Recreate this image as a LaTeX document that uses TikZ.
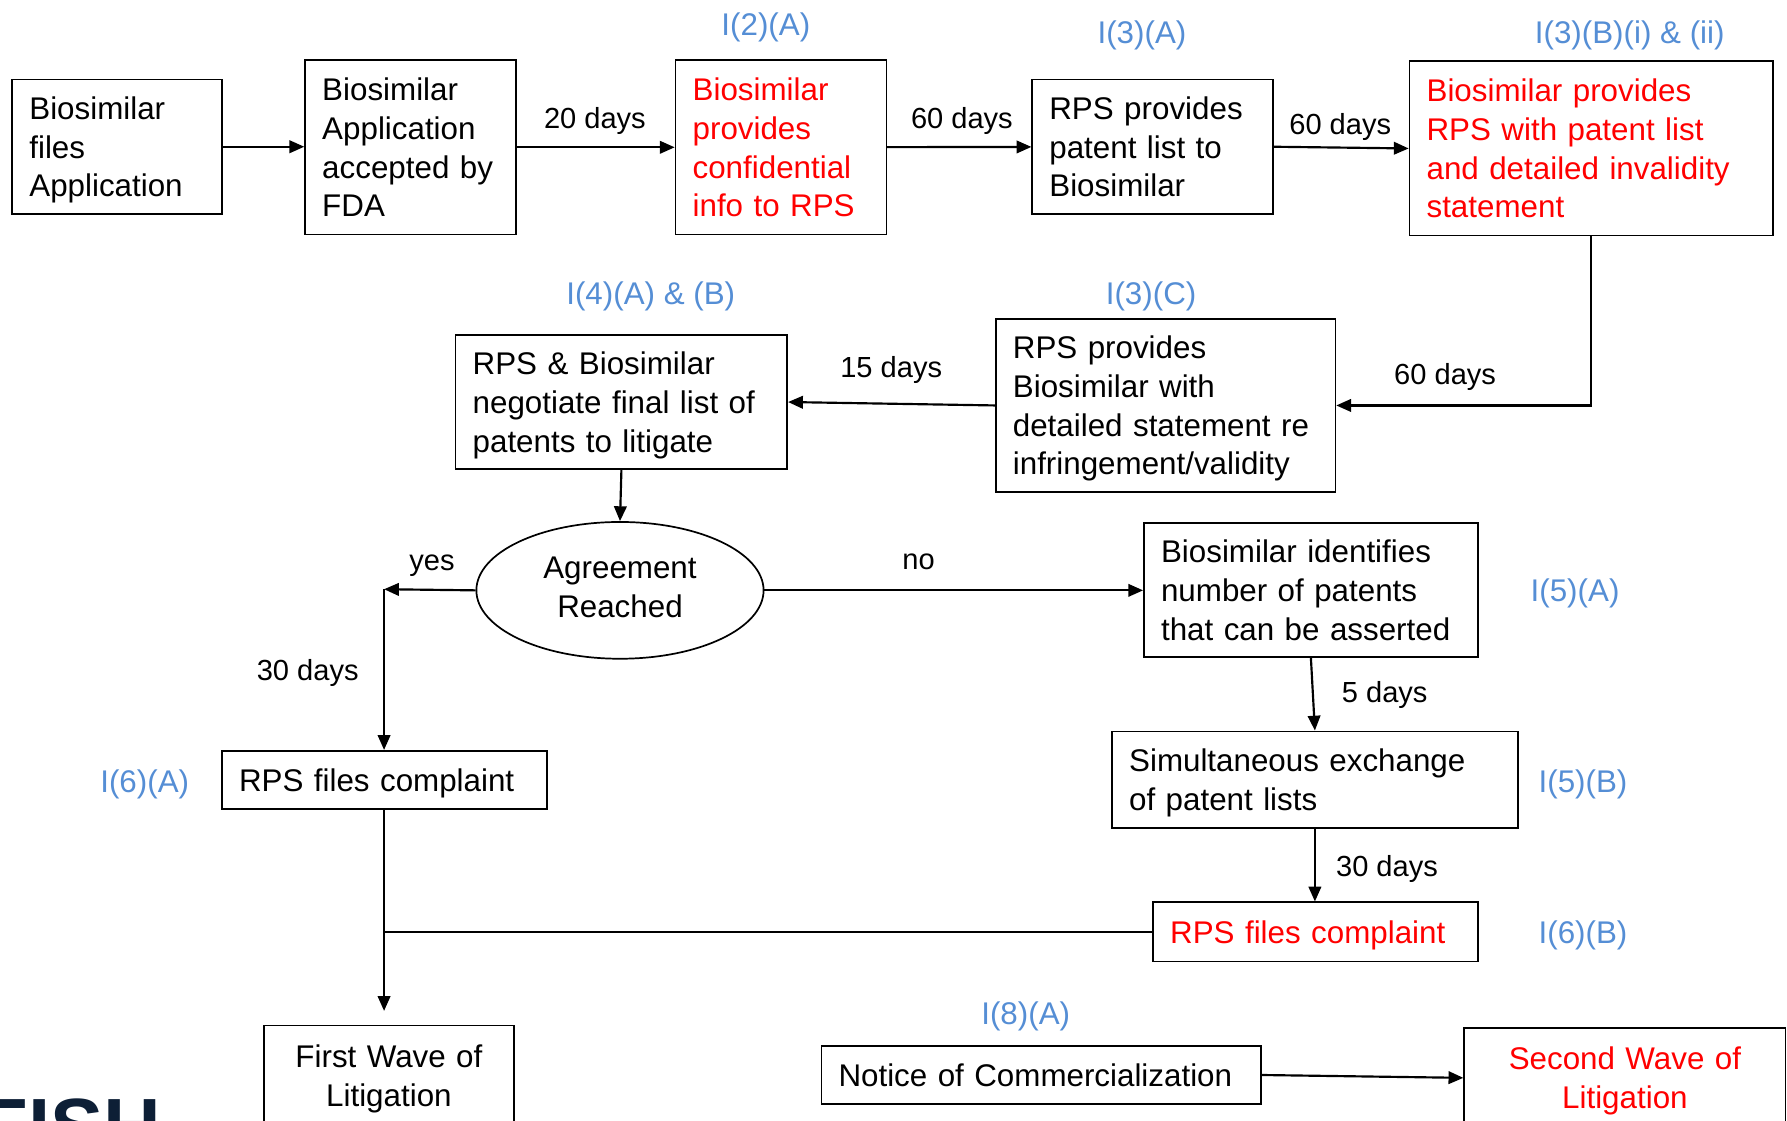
\documentclass[tikz,border=0pt]{standalone}
\usepackage{fontspec}
\setmainfont{Liberation Sans}
\usetikzlibrary{shapes.geometric,arrows.meta}
\definecolor{lblblue}{HTML}{558ED5}
\definecolor{logonavy}{HTML}{0D1F36}
\newcommand{\boxstrut}{\rule[-6pt]{0pt}{32pt}}
\newcommand{\ellstrut}{\rule[-6pt]{0pt}{40pt}}
\tikzset{
  box/.style={draw, line width=1.5pt, anchor=north west, inner xsep=15pt, inner ysep=0pt,
    align=left, font=\fontsize{27.5}{34}\selectfont,
    execute at begin node=\boxstrut, execute at end node=\boxstrut},
  cbox/.style={box, align=center},
  redtxt/.style={text=red},
  arr/.style={line width=1.9pt, -{Triangle[length=13pt,width=11pt]}},
  plain/.style={line width=1.6pt},
  daylbl/.style={font=\fontsize{25.5}{30}\selectfont, anchor=base, inner sep=0pt},
  seclbl/.style={text=lblblue, font=\fontsize{27.5}{34}\selectfont, anchor=base, inner sep=0pt},
}
\begin{document}
\begin{tikzpicture}[x=1pt,y=-1pt]
\useasboundingbox (0,0) rectangle (1568,983);
\clip (0,0) rectangle (1568,983);
\fill[white] (0,0) rectangle (1568,983);

% boxes (text width = box width - 30)
\node[box, text width=154pt, minimum height=118pt] (A) at (10,69) {Biosimilar\\files\\Application};
\node[box, text width=155pt, minimum height=153pt] (B) at (267,52) {Biosimilar\\Application\\accepted by\\FDA};
\node[box, redtxt, text width=155pt, minimum height=153pt] (C) at (592,52) {Biosimilar\\provides\\confidential\\info to RPS};
\node[box, text width=181pt, minimum height=118pt] (D) at (905,69) {RPS provides\\patent list to\\Biosimilar};
\node[box, redtxt, text width=289pt, minimum height=153pt] (E) at (1236,53) {Biosimilar provides\\RPS with patent list\\and detailed invalidity\\statement};
\node[box, text width=268pt, minimum height=152pt] (F) at (873,279) {RPS provides\\Biosimilar with\\detailed statement re\\infringement/validity};
\node[box, text width=261pt, minimum height=118pt] (G) at (399,293) {RPS \& Biosimilar\\negotiate final list of\\patents to litigate};
\node[draw, ellipse, line width=1.5pt, minimum width=252pt, minimum height=120pt, inner sep=0pt,
      align=center, font=\fontsize{27.5}{34}\selectfont,
      execute at begin node=\ellstrut, execute at end node=\boxstrut] (Ag) at (544,518) {Agreement\\Reached};
\node[box, text width=263pt, minimum height=118pt] (I) at (1003,458) {Biosimilar identifies\\number of patents\\that can be asserted};
\node[box, text width=326pt, minimum height=85pt] (J) at (975,641) {Simultaneous exchange\\of patent lists};
\node[box, redtxt, text width=255pt, minimum height=52pt] (K) at (1011,791) {RPS files complaint};
\node[box, text width=255pt, minimum height=51pt] (H) at (194,658) {RPS files complaint};
\node[cbox, text width=189pt, minimum height=88pt] (L) at (231,899) {First Wave of\\Litigation};
\node[box, text width=356pt, minimum height=51pt] (M) at (720,917) {Notice of Commercialization};
\node[cbox, redtxt, text width=252pt, minimum height=88pt] (N) at (1284,901) {Second Wave of\\Litigation};

\coordinate (yc) at (337,517);

% connectors
\draw[arr] (A.east) -- (A.east -| B.west);
\draw[arr] (B) -- (C);
\draw[arr] (C) -- (D);
\draw[arr] (D.east) -- (E.west);
\draw[arr] (E.south) |- (F.east);
\draw[arr] (F.west) -- (G.east);
\draw[arr] (G.south) -- (Ag.north);
\draw[arr] (Ag.west) -- (yc);
\draw[arr] (yc) -- (yc |- H.north);
\draw[arr] (Ag.east) -- (Ag.east -| I.west);
\draw[arr] (I.south) -- (J.north);
\draw[arr] (J.south) -- (J.south |- K.north);
\draw[plain] (K.west) -- (K.west -| yc);
\draw[arr, shorten >=12pt] (yc |- H.south) -- (yc |- L.north);
\draw[arr] (M.east) -- (N.west);

% day labels
\node[daylbl] (d1) at (522,113) {20 days};
\node[daylbl] (d2) at (844,113) {60 days};
\node[daylbl] (d3) at (1176,118) {60 days};
\node[daylbl] (d4) at (1268,337) {60 days};
\node[daylbl] (d5) at (782,331) {15 days};
\node[daylbl] (d6) at (379,501) {yes};
\node[daylbl] (d7) at (806,500) {no};
\node[daylbl] (d8) at (270,597) {30 days};
\node[daylbl] (d9) at (1215,616) {5 days};
\node[daylbl] (d10) at (1217,769) {30 days};

% section labels
\node[seclbl] (s1) at (672,31) {I(2)(A)};
\node[seclbl] (s2) at (1002,38) {I(3)(A)};
\node[seclbl] (s3) at (1430,38) {I(3)(B)(i) \& (ii)};
\node[seclbl] (s4) at (1010,267) {I(3)(C)};
\node[seclbl] (s5) at (571,267) {I(4)(A) \& (B)};
\node[seclbl] (s6) at (1382,528) {I(5)(A)};
\node[seclbl] (s7) at (1389,695) {I(5)(B)};
\node[seclbl] (s8) at (1389,828) {I(6)(B)};
\node[seclbl] (s9) at (127,695) {I(6)(A)};
\node[seclbl] (s10) at (900,899) {I(8)(A)};

% logo fragment (cut off at the lower edge, as in the reference)
\node[anchor=base west, inner sep=0pt, text=logonavy, font=\fontsize{70}{70}\selectfont\bfseries] (logo) at (-18,1013) {FISH};
\end{tikzpicture}
\end{document}
